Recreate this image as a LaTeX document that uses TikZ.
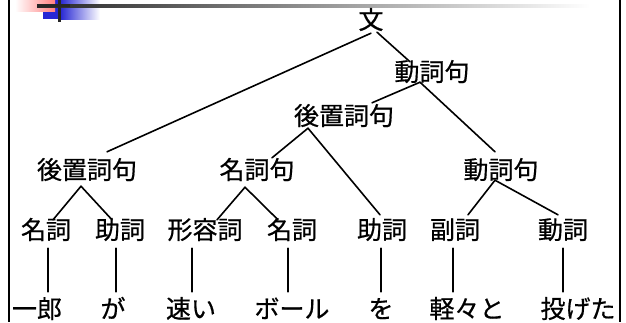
\documentclass[tikz,border=0pt]{standalone}
\usepackage{fontspec}
\newfontfamily\jpfont[FakeBold=0.6]{Noto Sans CJK JP}
\begin{document}
\begin{tikzpicture}[x=1pt,y=-1pt,
  lbl/.style={inner sep=0pt, text height=19pt, text depth=3pt, font=\jpfont\fontsize{25}{25}\selectfont},
  edge/.style={line width=1.6pt, line cap=round}]
\useasboundingbox (0,0) rectangle (626,322);
% decoration
\shade[left color=blue!80!black!85, right color=white] (60,0) rectangle (100,19);
\fill[blue!80!black!85] (43,0) rectangle (61,19);
\shade[left color=white, right color=red!50] (15,0) rectangle (55,11);
\shade[left color=black!85, right color=white] (37,4) rectangle (590,7);
\fill[black!85] (37,4) rectangle (70,7);
\fill[black!85] (57.5,0) rectangle (60.5,22);
% frame
\draw[line width=2.2pt] (9,0) -- (9,322);
\draw[line width=2.2pt] (620,0) -- (620,322);
% nodes
\node[lbl] (bun) at (371,21) {文};
\node[lbl] (dp1) at (432,73) {動詞句};
\node[lbl] (kp2) at (344,117) {後置詞句};
\node[lbl] (kp1) at (87,171) {後置詞句};
\node[lbl] (mp) at (257,171) {名詞句};
\node[lbl] (dp2) at (501,171) {動詞句};
\node[lbl] (n1) at (46,231) {名詞};
\node[lbl] (j1) at (120,231) {助詞};
\node[lbl] (k) at (205,231) {形容詞};
\node[lbl] (n2) at (292,231) {名詞};
\node[lbl] (j2) at (382,231) {助詞};
\node[lbl] (f) at (455,231) {副詞};
\node[lbl] (d) at (563,231) {動詞};
\node[lbl] (w1) at (37,310) {一郎};
\node[lbl] (w2) at (113,310) {が};
\node[lbl] (w3) at (191,310) {速い};
\node[lbl] (w4) at (292,310) {ボール};
\node[lbl] (w5) at (381,310) {を};
\node[lbl] (w6) at (467,310) {軽々と};
\node[lbl] (w7) at (578,310) {投げた};
% edges
\draw[edge] ([yshift=-1pt]bun.south) -- ([xshift=20pt,yshift=8pt]kp1.north);
\draw[edge] ([xshift=6pt]bun.south) -- ([xshift=-22pt]dp1.north);
\draw[edge] ([xshift=-12pt,yshift=2pt]dp1.south) -- ([xshift=28pt,yshift=3pt]kp2.north);
\draw[edge] ([xshift=-12pt,yshift=2pt]dp1.south) -- ([xshift=-6pt,yshift=8pt]dp2.north);
\draw[edge] ([xshift=-36pt]kp2.south) -- ([xshift=15pt,yshift=2pt]mp.north);
\draw[edge] ([xshift=-36pt]kp2.south) -- ([xshift=-2pt,yshift=5pt]j2.north);
\draw[edge] ([xshift=-6pt,yshift=-4pt]kp1.south) -- ([xshift=7pt]n1.north);
\draw[edge] ([xshift=-6pt,yshift=-4pt]kp1.south) -- ([xshift=-8pt]j1.north);
\draw[edge] ([xshift=-12pt,yshift=-5pt]mp.south) -- ([xshift=12pt]k.north);
\draw[edge] ([xshift=-12pt,yshift=-5pt]mp.south) -- ([xshift=-14pt]n2.north);
\draw[edge] ([xshift=-6pt,yshift=2pt]dp2.south) -- ([xshift=13pt,yshift=5pt]f.north);
\draw[edge] ([xshift=-6pt,yshift=2pt]dp2.south) -- ([xshift=-5pt,yshift=5pt]d.north);
\draw[edge] ([xshift=2pt,yshift=-6pt]n1.south) -- ([xshift=2pt,yshift=7pt]n1.south |- w1.north);
\draw[edge] ([xshift=-4pt,yshift=-6pt]j1.south) -- ([xshift=-4pt,yshift=7pt]j1.south |- w2.north);
\draw[edge] ([xshift=-13pt,yshift=-6pt]k.south) -- ([xshift=-13pt,yshift=7pt]k.south |- w3.north);
\draw[edge] ([xshift=-4pt,yshift=-6pt]n2.south) -- ([xshift=-4pt,yshift=7pt]n2.south |- w4.north);
\draw[edge] ([xshift=-1pt,yshift=-6pt]j2.south) -- ([xshift=-1pt,yshift=7pt]j2.south |- w5.north);
\draw[edge] ([xshift=-2pt,yshift=-6pt]f.south) -- ([xshift=-2pt,yshift=7pt]f.south |- w6.north);
\draw[edge] ([yshift=-6pt]d.south) -- ([yshift=7pt]d.south |- w7.north);
\end{tikzpicture}
\end{document}
